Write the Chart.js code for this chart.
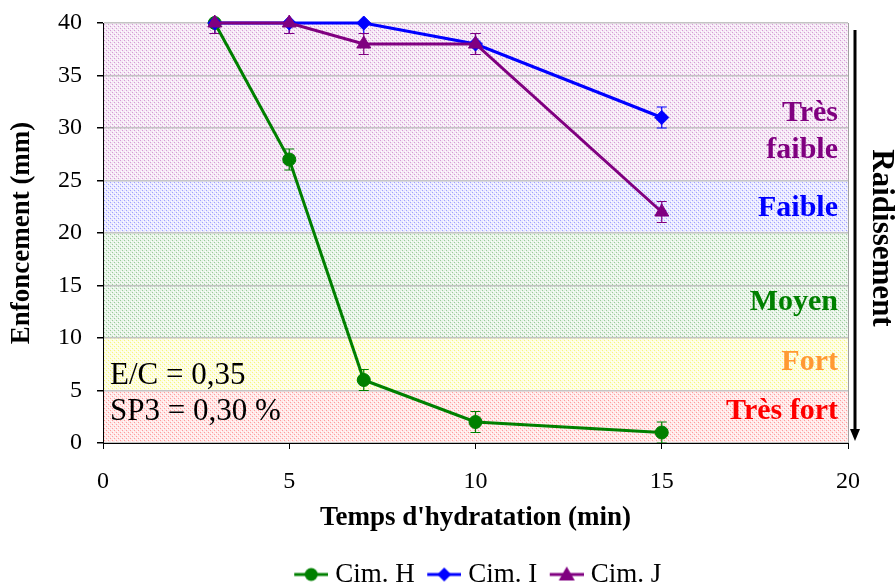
<!DOCTYPE html>
<html>
<head>
<meta charset="utf-8">
<script src="https://cdn.jsdelivr.net/npm/chart.js@4"></script>
<style>
  body { margin: 0; background: #fff; }
  #wrap { width: 896px; height: 583px; }
</style>
</head>
<body>
<div id="wrap"><canvas id="chart" width="896" height="583"></canvas></div>
<script>
// Data
const times = [3, 5, 7, 10, 15];
const cimH = [40, 27, 6, 2, 1];
const cimI = [40, 40, 40, 38, 31];
const cimJ = [40, 40, 38, 38, 22];
const errH = [1, 1, 1, 1, 1];
const errI = [1, 1, 1, 1, 1];
const errJ = [1, 1, 1, 1, 1];
const seriesNames = ['Cim. H', 'Cim. I', 'Cim. J'];

// Stiffening zones (y ranges)
const zoneLow = [0, 5, 10, 20, 25];
const zoneHigh = [5, 10, 20, 25, 40];
const zoneNames = ['Très fort', 'Fort', 'Moyen', 'Faible', 'Très\nfaible'];

const serif = '"Liberation Serif", "Times New Roman", serif';
const zoneTint = ['#ff4040', '#f0f000', '#3c9a3c', '#4848ff', '#b040b0'];
const zoneText = ['#ff0000', '#ff9933', '#008000', '#0000ff', '#800080'];
const lineColors = ['#008000', '#0000ff', '#800080'];
const markers = ['circle', 'rectRot', 'triangle'];
const markerSize = [6.5, 7, 8];

function makePattern(ctx, color) {
  const c = document.createElement('canvas');
  c.width = 4; c.height = 4;
  const g = c.getContext('2d');
  g.fillStyle = '#fff';
  g.fillRect(0, 0, 4, 4);
  g.globalAlpha = 0.12;
  g.fillStyle = color;
  g.fillRect(0, 0, 4, 4);
  g.globalAlpha = 0.45;
  g.fillRect(0, 0, 1, 1);
  g.fillRect(2, 2, 1, 1);
  g.globalAlpha = 1;
  g.fillStyle = '#fff';
  g.fillRect(1, 3, 1, 1);
  g.fillRect(3, 1, 1, 1);
  return ctx.createPattern(c, 'repeat');
}

function legendIcon(i) {
  const c = document.createElement('canvas');
  c.width = 45; c.height = 20;
  const g = c.getContext('2d');
  g.strokeStyle = lineColors[i];
  g.lineWidth = 3;
  g.beginPath(); g.moveTo(11, 10); g.lineTo(45, 10); g.stroke();
  g.fillStyle = lineColors[i];
  g.beginPath();
  if (i === 0) {
    g.arc(28, 10, 6.5, 0, Math.PI * 2);
  } else if (i === 1) {
    g.moveTo(28, 3); g.lineTo(35, 10); g.lineTo(28, 17); g.lineTo(21, 10);
  } else {
    g.moveTo(28, 2); g.lineTo(36, 16); g.lineTo(20, 16);
  }
  g.closePath(); g.fill();
  return c;
}

const zonesPlugin = {
  id: 'zones',
  beforeDraw(chart) {
    const {ctx, chartArea: a, scales: {y}} = chart;
    ctx.save();
    zoneLow.forEach((lo, i) => {
      const top = y.getPixelForValue(zoneHigh[i]);
      const bot = y.getPixelForValue(lo);
      ctx.fillStyle = makePattern(ctx, zoneTint[i]);
      ctx.fillRect(a.left, top, a.right - a.left, bot - top);
    });
    ctx.restore();
  },
  afterDraw(chart) {
    const {ctx, chartArea: a, scales: {y}} = chart;
    ctx.save();
    // frame on the right
    ctx.strokeStyle = '#a0a0a0';
    ctx.lineWidth = 1;
    ctx.beginPath();
    ctx.moveTo(a.right + 0.5, a.top); ctx.lineTo(a.right + 0.5, a.bottom);
    ctx.stroke();

    // zone names
    const namePos = [3.0, 7.7, 13.4, 22.4, 29.65];
    ctx.font = 'bold 30px ' + serif;
    ctx.textAlign = 'right';
    ctx.textBaseline = 'middle';
    zoneNames.forEach((name, i) => {
      ctx.fillStyle = zoneText[i];
      const lines = name.split('\n');
      lines.forEach((ln, k) => {
        const py = y.getPixelForValue(namePos[i]) + (k - (lines.length - 1) / 2) * 37;
        ctx.fillText(ln, a.right - 10, py);
      });
    });

    // mix notes
    ctx.fillStyle = '#000';
    ctx.font = '31px ' + serif;
    ctx.textAlign = 'left';
    ctx.fillText('E/C = 0,35', a.left + 7, 376);
    ctx.fillText('SP3 = 0,30 %', a.left + 7, 412);

    // arrow
    ctx.strokeStyle = '#000';
    ctx.fillStyle = '#000';
    ctx.lineWidth = 3;
    ctx.beginPath();
    ctx.moveTo(855, a.top + 7); ctx.lineTo(855, a.bottom - 10);
    ctx.stroke();
    ctx.beginPath();
    ctx.moveTo(850, a.bottom - 14); ctx.lineTo(860, a.bottom - 14); ctx.lineTo(855, a.bottom - 2);
    ctx.closePath(); ctx.fill();

    ctx.translate(881, 238);
    ctx.rotate(Math.PI / 2);
    ctx.font = 'bold 31px ' + serif;
    ctx.textAlign = 'center';
    ctx.fillText('Raidissement', 0, 0);
    ctx.restore();
  }
};

const errorBarPlugin = {
  id: 'errorBars',
  beforeDatasetsDraw(chart) {
    const {ctx, chartArea: a, scales: {x, y}} = chart;
    const errs = [errH, errI, errJ];
    const vals = [cimH, cimI, cimJ];
    ctx.save();
    ctx.beginPath();
    ctx.rect(a.left, a.top, a.right - a.left, a.bottom - a.top);
    ctx.clip();
    ctx.lineWidth = 1.2;
    vals.forEach((v, s) => {
      ctx.strokeStyle = lineColors[s];
      times.forEach((t, i) => {
        const px = x.getPixelForValue(t);
        const hi = y.getPixelForValue(v[i] + errs[s][i]);
        const lo = y.getPixelForValue(v[i] - errs[s][i]);
        ctx.beginPath();
        ctx.moveTo(px, hi); ctx.lineTo(px, lo);
        ctx.moveTo(px - 5, hi); ctx.lineTo(px + 5, hi);
        ctx.moveTo(px - 5, lo); ctx.lineTo(px + 5, lo);
        ctx.stroke();
      });
    });
    ctx.restore();
  }
};

const icons = [0, 1, 2].map(legendIcon);
const allSeries = [cimH, cimI, cimJ];

new Chart(document.getElementById('chart'), {
  type: 'scatter',
  data: {
    datasets: allSeries.map((vals, s) => ({
      label: seriesNames[s],
      data: times.map((t, i) => ({x: t, y: vals[i]})),
      showLine: true,
      borderColor: lineColors[s],
      backgroundColor: lineColors[s],
      borderWidth: 3,
      pointStyle: markers[s],
      pointRadius: markerSize[s],
      pointHoverRadius: markerSize[s],
      pointBorderWidth: 1,
      clip: false,
      order: 3 - s
    }))
  },
  options: {
    responsive: false,
    animation: false,
    events: [],
    layout: { padding: { top: 23, right: 48, left: 0, bottom: -15 } },
    scales: {
      x: {
        type: 'linear',
        min: 0, max: 20,
        afterFit: s => { s.height = 110; s.paddingLeft = 0; s.paddingRight = 0; },
        ticks: { stepSize: 5, padding: 18, color: '#000', font: { family: serif, size: 24 } },
        grid: { drawOnChartArea: false, tickLength: 6, tickColor: '#000' },
        border: { color: '#000', width: 1 },
        title: {
          display: true, text: "Temps d'hydratation (min)", color: '#000',
          font: { family: serif, size: 27, weight: 'bold' },
          padding: { top: 0, bottom: 19 }
        }
      },
      y: {
        min: 0, max: 40,
        afterFit: s => { s.width = 103; s.paddingTop = 0; s.paddingBottom = 0; },
        ticks: { stepSize: 5, padding: 15, color: '#000', font: { family: serif, size: 24 } },
        grid: { color: '#c4c4c4', lineWidth: 1.5, tickLength: 6, tickColor: '#000' },
        border: { color: '#000', width: 1 },
        title: {
          display: true, text: 'Enfoncement (mm)', color: '#000',
          font: { family: serif, size: 27, weight: 'bold' },
          padding: { top: 6, bottom: 0 }
        }
      }
    },
    plugins: {
      tooltip: { enabled: false },
      legend: {
        position: 'bottom',
        fullSize: false,
        labels: {
          usePointStyle: true,
          pointStyleWidth: 32,
          padding: 8,
          color: '#000',
          font: { family: serif, size: 27 },
          sort: (a, b) => a.datasetIndex - b.datasetIndex,
          generateLabels: chart => Chart.defaults.plugins.legend.labels.generateLabels(chart)
            .map(item => Object.assign(item, { pointStyle: icons[item.datasetIndex] }))
        }
      }
    }
  },
  plugins: [zonesPlugin, errorBarPlugin]
});
</script>
</body>
</html>
